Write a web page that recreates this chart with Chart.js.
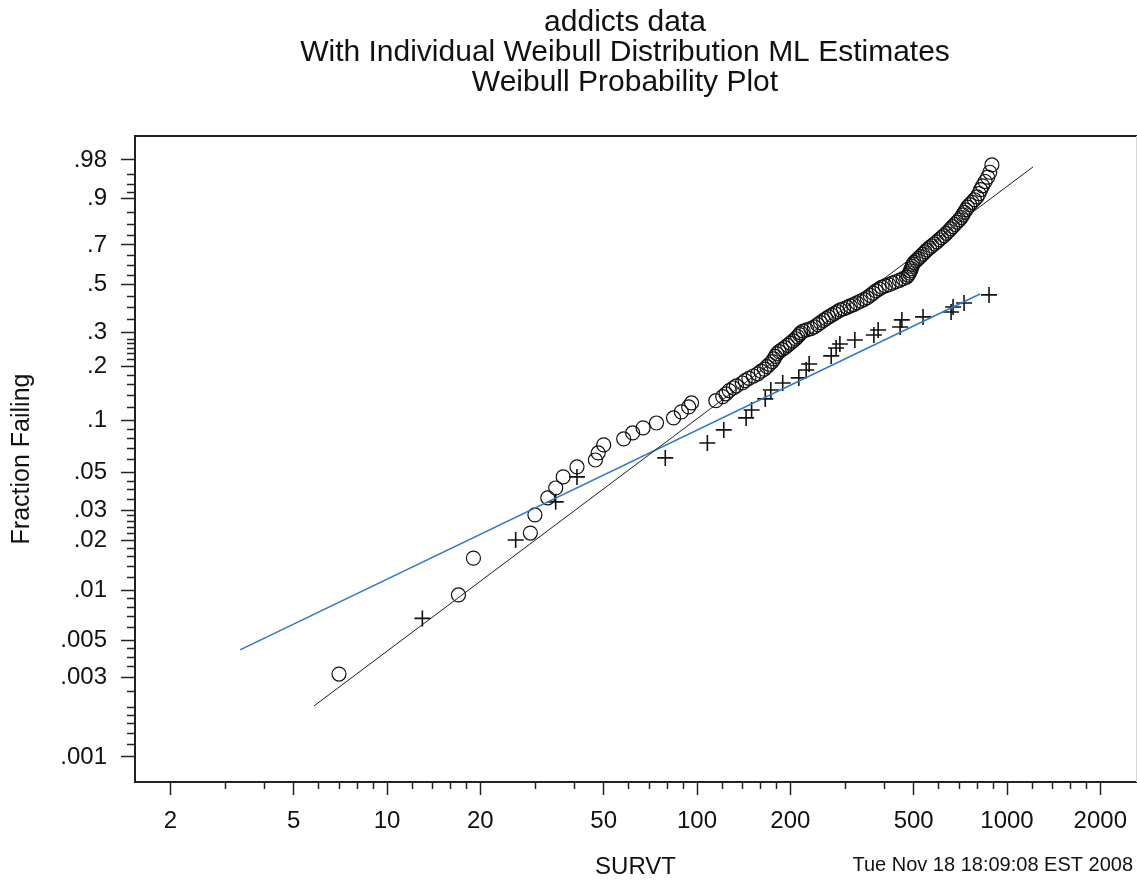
<!DOCTYPE html>
<html>
<head>
<meta charset="utf-8">
<script src="https://cdn.jsdelivr.net/npm/chart.js@4/dist/chart.umd.min.js"></script>
<style>
  html, body { margin: 0; padding: 0; background: #ffffff; }
  canvas { display: block; }
</style>
</head>
<body>
<canvas id="plot" width="1137" height="882"></canvas>
<script>
// ---- text ----
const titleLines = [
  'addicts data',
  'With Individual Weibull Distribution ML Estimates',
  'Weibull Probability Plot'
];
const xAxisTitle = 'SURVT';
const yAxisTitle = 'Fraction Failing';
const stampText = 'Tue Nov 18 18:09:08 EST 2008';

// ---- axis ticks ----
const xTicks = [2, 5, 10, 20, 50, 100, 200, 500, 1000, 2000];
const xMinorTicks = [3, 4, 6, 7, 8, 9, 12, 14, 16, 18, 30, 40, 60, 70, 80, 90,
  120, 140, 160, 180, 300, 400, 600, 700, 800, 900, 1200, 1400, 1600, 1800];
const yTicks = [0.001, 0.003, 0.005, 0.01, 0.02, 0.03, 0.05, 0.1, 0.2, 0.3, 0.5, 0.7, 0.9, 0.98];
const yTickLabels = ['.001', '.003', '.005', '.01', '.02', '.03', '.05', '.1', '.2', '.3', '.5', '.7', '.9', '.98'];
const yMinorTicks = [0.0012, 0.0014, 0.0016, 0.0018, 0.002, 0.0025, 0.0035, 0.004, 0.0045,
  0.006, 0.007, 0.008, 0.009, 0.012, 0.014, 0.016, 0.018, 0.022, 0.024, 0.026, 0.028,
  0.035, 0.04, 0.045, 0.06, 0.07, 0.08, 0.09, 0.12, 0.14, 0.16, 0.18,
  0.22, 0.235, 0.25, 0.265, 0.28, 0.35, 0.4, 0.45, 0.55, 0.6, 0.65, 0.75, 0.8, 0.85,
  0.92, 0.94, 0.96];
const xRange = [1.538, 2607];
const yRange = [0.000707, 0.9957];

// ---- group plotted with circles ----
const circleTime = [
  7, 17, 19, 29, 30, 33, 35, 37, 41, 47, 48, 50, 58, 62, 67, 74, 84, 89, 94, 96,
  115, 121, 124, 127, 131, 134, 140, 143, 147, 152, 157, 161, 165, 168, 171, 175, 177, 179, 181, 184,
  188, 192, 196, 200, 204, 208, 211, 214, 216,
  220, 226, 233, 239, 245, 250, 256, 261, 266, 272, 278, 284, 290, 297, 305, 312, 320, 328, 337, 346,
  354, 362, 370, 378, 387, 395, 405, 416, 427, 438, 450, 462, 474,
  480, 484, 488, 491, 494, 497, 502, 510, 518, 527, 535, 544, 552, 562, 572, 583, 594, 604,
  615, 626, 637, 648, 658, 668, 679, 690, 701,
  712, 720, 728, 737, 746, 758, 771, 785, 800, 812, 822, 834, 850, 866, 880, 894
];
const circleFrac = [
  0.00315, 0.0094, 0.0156, 0.0220, 0.0282, 0.0356, 0.0407, 0.0473, 0.0541, 0.0594,
  0.0653, 0.0727, 0.0787, 0.0852, 0.0911, 0.0972, 0.1039, 0.1124, 0.1199, 0.1263,
  0.130, 0.137, 0.142, 0.148, 0.153, 0.157, 0.163, 0.168, 0.173, 0.178, 0.183, 0.189, 0.194, 0.200,
  0.206, 0.213, 0.220, 0.227, 0.234, 0.240, 0.246, 0.252, 0.259, 0.266, 0.273, 0.280, 0.287, 0.294, 0.300,
  0.306, 0.310, 0.315, 0.321, 0.329, 0.337, 0.345, 0.352, 0.359, 0.366, 0.373, 0.380, 0.387, 0.392,
  0.398, 0.404, 0.410, 0.417, 0.425, 0.433, 0.440, 0.451, 0.461, 0.471, 0.481, 0.489, 0.495, 0.501,
  0.508, 0.515, 0.522, 0.530, 0.538,
  0.548, 0.558, 0.569, 0.580, 0.591, 0.602, 0.612, 0.622, 0.632, 0.643, 0.654, 0.665, 0.675, 0.685,
  0.695, 0.705, 0.715, 0.726, 0.736, 0.746, 0.757, 0.768, 0.778, 0.788, 0.798, 0.808, 0.818,
  0.828, 0.839, 0.849, 0.859, 0.869, 0.878, 0.886, 0.895, 0.904, 0.914, 0.925, 0.935, 0.945,
  0.954, 0.963, 0.974
];

// ---- group plotted with plus signs ----
const crossTime = [13, 26, 35, 41, 79, 108, 122, 144, 150, 166, 173, 189, 213, 225, 230,
  271, 281, 289, 323, 372, 384, 452, 458, 536, 660, 670, 727, 875];
const crossFrac = [0.0068, 0.0200, 0.0337, 0.0473, 0.0611, 0.0746, 0.0887, 0.1039, 0.1153,
  0.1330, 0.1492, 0.1631, 0.1738, 0.1920, 0.2068, 0.2281, 0.2511, 0.2634, 0.2761, 0.2927,
  0.3100, 0.3208, 0.3471, 0.3588, 0.3789, 0.3997, 0.4169, 0.4527];

// ---- fitted Weibull lines (end points) ----
const fitCircleTime = [5.81, 1213];
const fitCircleFrac = [0.002025, 0.9713];
const fitCrossTime = [3.356, 818.4];
const fitCrossFrac = [0.0044, 0.4573];

// Weibull probability-paper transform: log(-log(1 - F))
const weib = f => Math.log(-Math.log(1 - f));
const toPoints = (ts, fs) => ts.map((t, i) => ({ x: t, y: weib(fs[i]) }));

const FONT = '"Liberation Sans", Arial, Helvetica, sans-serif';
const INK = '#111111';
Chart.defaults.font.family = FONT;
Chart.defaults.color = INK;

// Frame, minor ticks, titles and time stamp
const decorations = {
  id: 'decorations',
  afterDraw(chart) {
    const { ctx, chartArea: a, scales } = chart;
    const xs = scales.x, ys = scales.y;
    ctx.save();
    ctx.strokeStyle = '#222222';
    ctx.lineWidth = 1.5;
    ctx.beginPath();
    xMinorTicks.forEach(v => {
      const px = Math.round(xs.getPixelForValue(v)) + 0.5;
      ctx.moveTo(px, a.bottom);
      ctx.lineTo(px, a.bottom + 7);
    });
    yMinorTicks.forEach(f => {
      const py = Math.round(ys.getPixelForValue(weib(f))) + 0.5;
      ctx.moveTo(a.left - 8, py);
      ctx.lineTo(a.left, py);
    });
    ctx.stroke();

    // top edge of the plot box
    ctx.lineWidth = 2;
    ctx.beginPath();
    ctx.moveTo(a.left, a.top);
    ctx.lineTo(chart.width, a.top);
    ctx.stroke();
    // faint right edge
    ctx.strokeStyle = '#d8d8d8';
    ctx.lineWidth = 1;
    ctx.beginPath();
    ctx.moveTo(a.right + 0.5, a.top);
    ctx.lineTo(a.right + 0.5, a.bottom);
    ctx.stroke();

    // titles
    ctx.fillStyle = INK;
    ctx.textAlign = 'center';
    ctx.textBaseline = 'middle';
    ctx.font = '30px ' + FONT;
    titleLines.forEach((line, i) => ctx.fillText(line, 625, 23 + i * 30));

    // time stamp
    ctx.textAlign = 'right';
    ctx.font = '20px ' + FONT;
    ctx.fillText(stampText, 1133, 865);
    ctx.restore();
  }
};

new Chart(document.getElementById('plot'), {
  type: 'scatter',
  data: {
    datasets: [
      {
        data: toPoints(fitCircleTime, fitCircleFrac),
        showLine: true, pointRadius: 0, borderColor: '#1a1a1a', borderWidth: 1
      },
      {
        data: toPoints(fitCrossTime, fitCrossFrac),
        showLine: true, pointRadius: 0, borderColor: '#2f78d2', borderWidth: 1.6
      },
      {
        data: toPoints(circleTime, circleFrac),
        pointStyle: 'circle', pointRadius: 7, pointBorderWidth: 1.2,
        pointBorderColor: INK, pointBackgroundColor: 'rgba(255,255,255,0)'
      },
      {
        data: toPoints(crossTime, crossFrac),
        pointStyle: 'cross', pointRadius: 8, pointBorderWidth: 1.6,
        pointBorderColor: INK, pointBackgroundColor: INK
      }
    ]
  },
  options: {
    responsive: false,
    animation: false,
    devicePixelRatio: 1,
    layout: { autoPadding: false, padding: { top: 136, right: 1, left: 0, bottom: 0 } },
    plugins: { legend: { display: false }, tooltip: { enabled: false } },
    scales: {
      x: {
        type: 'logarithmic',
        bounds: 'data',
        min: xRange[0],
        max: xRange[1],
        afterBuildTicks: s => { s.ticks = xTicks.map(v => ({ value: v })); },
        afterFit: s => { s.height = 100; s.paddingLeft = 0; s.paddingRight = 0; },
        ticks: {
          autoSkip: false, maxRotation: 0, minRotation: 0, padding: 12,
          font: { size: 24 }, color: INK,
          callback: v => String(v)
        },
        grid: {
          display: true, drawOnChartArea: false, drawTicks: true,
          tickLength: 13, tickColor: '#222222', tickWidth: 1.5
        },
        border: { display: true, color: '#222222', width: 2 },
        title: {
          display: true, text: xAxisTitle, color: INK,
          font: { size: 24 }, padding: { top: 0, bottom: 0 }
        }
      },
      y: {
        type: 'linear',
        bounds: 'data',
        min: weib(yRange[0]),
        max: weib(yRange[1]),
        afterBuildTicks: s => { s.ticks = yTicks.map(f => ({ value: weib(f) })); },
        afterFit: s => { s.width = 135; s.paddingTop = 0; s.paddingBottom = 0; },
        ticks: {
          autoSkip: false, padding: 14,
          font: { size: 24 }, color: INK,
          callback: (v, i) => yTickLabels[i]
        },
        grid: {
          display: true, drawOnChartArea: false, drawTicks: true,
          tickLength: 14, tickColor: '#222222', tickWidth: 1.5
        },
        border: { display: true, color: '#222222', width: 2 },
        title: {
          display: true, text: yAxisTitle, color: INK,
          font: { size: 25 }, padding: { top: 7, bottom: 0 }
        }
      }
    }
  },
  plugins: [decorations]
});
</script>
</body>
</html>
